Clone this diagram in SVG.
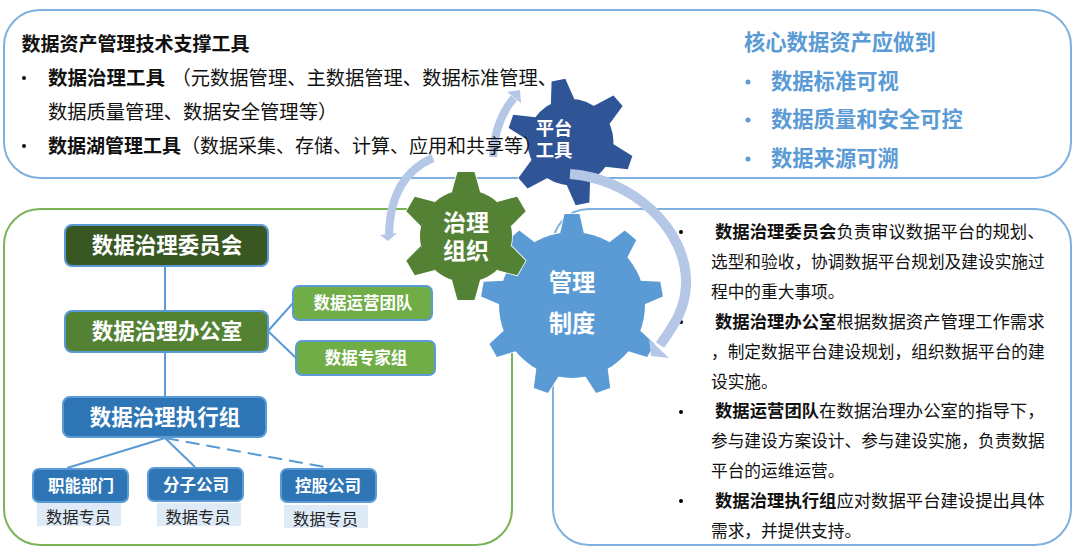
<svg xmlns="http://www.w3.org/2000/svg" xmlns:xlink="http://www.w3.org/1999/xlink" width="1080" height="559" viewBox="0 0 1080 559">
<style>
text{font-family:"Noto Sans CJK SC","Noto Sans",sans-serif;}
.panel{fill:none;stroke-width:2;}
.node{stroke:#5b9bd5;stroke-width:2;}
.n1{font-size:21.5px;font-weight:700;fill:#fff;text-anchor:middle;}
.n2{font-size:16.5px;font-weight:700;fill:#fff;text-anchor:middle;}
.n3{font-size:16.3px;fill:#262626;text-anchor:middle;}
.tag{fill:#deebf7;}
.k{font-size:19.3px;fill:#111;}
.b{font-weight:700;}
.h{font-size:21.3px;font-weight:700;fill:#5b9bd5;}
.d{font-size:16.7px;fill:#111;}
.e{font-size:17.35px;fill:#111;}
.g{font-weight:700;fill:#fff;text-anchor:middle;}
.conn{fill:none;stroke:#5b9bd5;stroke-width:2;}
.arc{fill:none;stroke:#b4c7e7;}
.head{fill:#b4c7e7;}
.edge{stroke:#fff;stroke-width:1.6;}
</style>
<defs>
<polygon id="t1" points="-12,-41 -7,-63 7,-63 12,-41"/>
<polygon id="t2" points="-14,-44 -8.5,-64 8.5,-64 14,-44"/>
<polygon id="t3" points="-12,-71 -7.5,-91 7.5,-91 12,-71"/>
<g id="gear1"><circle r="43"/><use href="#t1"/><use href="#t1" transform="rotate(60)"/><use href="#t1" transform="rotate(120)"/><use href="#t1" transform="rotate(180)"/><use href="#t1" transform="rotate(240)"/><use href="#t1" transform="rotate(300)"/></g>
<g id="gear2"><circle r="46"/><use href="#t2"/><use href="#t2" transform="rotate(60)"/><use href="#t2" transform="rotate(120)"/><use href="#t2" transform="rotate(180)"/><use href="#t2" transform="rotate(240)"/><use href="#t2" transform="rotate(300)"/></g>
<g id="gear3"><circle r="73"/><use href="#t3"/><use href="#t3" transform="rotate(40)"/><use href="#t3" transform="rotate(80)"/><use href="#t3" transform="rotate(120)"/><use href="#t3" transform="rotate(160)"/><use href="#t3" transform="rotate(200)"/><use href="#t3" transform="rotate(240)"/><use href="#t3" transform="rotate(280)"/><use href="#t3" transform="rotate(320)"/></g>
</defs>
<rect width="1080" height="559" fill="#fff"/>

<g id="panel-tools">
<rect class="panel" x="4" y="10" width="1067" height="168" rx="36" ry="36" stroke="#7fb0de"/>
<text class="h" x="744" y="50">核心数据资产应做到</text>
<circle cx="748" cy="82" r="2.500" fill="#5b9bd5"/>
<text class="h" x="771" y="89">数据标准可视</text>
<circle cx="748" cy="120" r="2.500" fill="#5b9bd5"/>
<text class="h" x="771" y="127">数据质量和安全可控</text>
<circle cx="748" cy="159" r="2.500" fill="#5b9bd5"/>
<text class="h" x="771" y="166">数据来源可溯</text>
</g>

<g id="panel-org"><rect class="panel" x="4" y="209" width="508" height="336" rx="36" ry="36" stroke="#7ab356"/></g>
<g id="panel-desc"><rect class="panel" x="553" y="209" width="518" height="336" rx="36" ry="36" stroke="#7fb0de"/></g>

<g id="connectors">
<path class="conn" d="M165 266V311M165 352V397M268 331L293 303M268 331L296 358M165 438L67 468M165 438L195 467"/>
<path class="conn" d="M165 438L330 468" stroke-dasharray="14 7"/>
</g>

<g id="node-committee"><rect class="node" x="65" y="225" width="203" height="41" rx="7" fill="#385723"/><text class="n1" x="167" y="253">数据治理委员会</text></g>
<g id="node-office"><rect class="node" x="65" y="311" width="203" height="41" rx="7" fill="#548235"/><text class="n1" x="167" y="339">数据治理办公室</text></g>
<g id="node-exec"><rect class="node" x="63" y="397" width="203" height="40" rx="7" fill="#2e75b6"/><text class="n1" x="165" y="425">数据治理执行组</text></g>
<g id="node-ops"><rect class="node" x="293" y="286" width="139" height="34" rx="6" fill="#70ad47"/><text class="n2" x="363" y="309">数据运营团队</text></g>
<g id="node-experts"><rect class="node" x="296" y="341" width="139" height="34" rx="6" fill="#70ad47"/><text class="n2" x="366" y="364">数据专家组</text></g>
<g id="node-dept"><rect class="tag" x="37" y="503" width="84" height="23"/><rect class="node" x="33" y="469" width="95" height="33" rx="6" fill="#2e75b6"/><text class="n2" x="81" y="492">职能部门</text><text class="n3" x="78.500" y="523">数据专员</text></g>
<g id="node-branch"><rect class="tag" x="157" y="503" width="84" height="23"/><rect class="node" x="148" y="468" width="95" height="33" rx="6" fill="#2e75b6"/><text class="n2" x="196" y="491">分子公司</text><text class="n3" x="198" y="523">数据专员</text></g>
<g id="node-holding"><rect class="tag" x="284" y="505" width="84" height="23"/><rect class="node" x="281" y="469" width="95" height="33" rx="6" fill="#2e75b6"/><text class="n2" x="328" y="492">控股公司</text><text class="n3" x="325.500" y="525">数据专员</text></g>

<g id="desc-text">
<circle cx="681" cy="232" r="2" fill="#000"/><circle cx="681" cy="322" r="2" fill="#000"/><circle cx="681" cy="412" r="2" fill="#000"/><circle cx="681" cy="501" r="2" fill="#000"/>
<text class="e" x="715" y="238"><tspan class="b">数据治理委员会</tspan>负责审议数据平台的规划、</text>
<text class="d" x="711" y="268">选型和验收，协调数据平台规划及建设实施过</text>
<text class="d" x="711" y="298">程中的重大事项。</text>
<text class="e" x="715" y="328"><tspan class="b">数据治理办公室</tspan>根据数据资产管理工作需求</text>
<text class="d" x="711" y="358">，制定数据平台建设规划，组织数据平台的建</text>
<text class="d" x="711" y="388">设实施。</text>
<text class="e" x="715" y="417"><tspan class="b">数据运营团队</tspan>在数据治理办公室的指导下，</text>
<text class="d" x="711" y="447">参与建设方案设计、参与建设实施，负责数据</text>
<text class="d" x="711" y="477">平台的运维运营。</text>
<text class="e" x="715" y="507"><tspan class="b">数据治理执行组</tspan>应对数据平台建设提出具体</text>
<text class="d" x="711" y="537">需求，并提供支持。</text>
</g>

<g id="gear-mgmt"><use href="#gear3" transform="translate(572 305)" class="edge" fill="#fff"/><use href="#gear3" transform="translate(572 305)" fill="#5b9bd5"/><text class="g" font-size="23.300"><tspan x="572" y="291">管理</tspan><tspan x="572" y="332">制度</tspan></text></g>
<g id="gear-org"><use href="#gear2" transform="translate(466 236)" class="edge" fill="#fff"/><use href="#gear2" transform="translate(466 236)" fill="#548235"/><text class="g" font-size="23"><tspan x="466" y="231">治理</tspan><tspan x="466" y="259">组织</tspan></text></g>
<g id="gear-tools"><use href="#gear1" transform="translate(570.500 142) rotate(-11)" class="edge" fill="#fff"/><use href="#gear1" transform="translate(570.500 142) rotate(-11)" fill="#2f5597"/><text class="g" font-size="18.300"><tspan x="554" y="135">平台</tspan><tspan x="554" y="157">工具</tspan></text></g>

<g id="cycle-arrows">
<path class="arc" stroke-width="10" d="M570 174C630 178 688 228 686 285C685 310 674 325 660 345"/>
<polygon class="head" points="651,356 649,339 669,358"/>
<path class="arc" stroke-width="8" d="M493 157C494 133 502 112 514 98"/>
<polygon class="head" points="520,90 507,92 521,103"/>
<path class="arc" stroke-width="8" d="M433 158C405 170 390 195 389 234"/>
<polygon class="head" points="388,241 380,235 397,233"/>
</g>

<g id="tools-text">
<text class="k b" x="21.500" y="50.500" style="font-size:19px">数据资产管理技术支撑工具</text>
<circle cx="24" cy="78" r="2" fill="#111"/>
<text class="k" y="85"><tspan class="b" x="48" style="font-size:19.500px">数据治理工具</tspan><tspan x="171.500">（元数据管理、主数据管理、数据标准管理、</tspan></text>
<text class="k" x="48" y="119">数据质量管理、数据安全管理等）</text>
<circle cx="24" cy="146" r="2" fill="#111"/>
<text class="k" y="153"><tspan class="b" x="48" style="font-size:19px">数据湖管理工具</tspan><tspan x="181" style="font-size:19px">（数据采集、存储、计算、应用和共享等）</tspan></text>
</g>
</svg>
